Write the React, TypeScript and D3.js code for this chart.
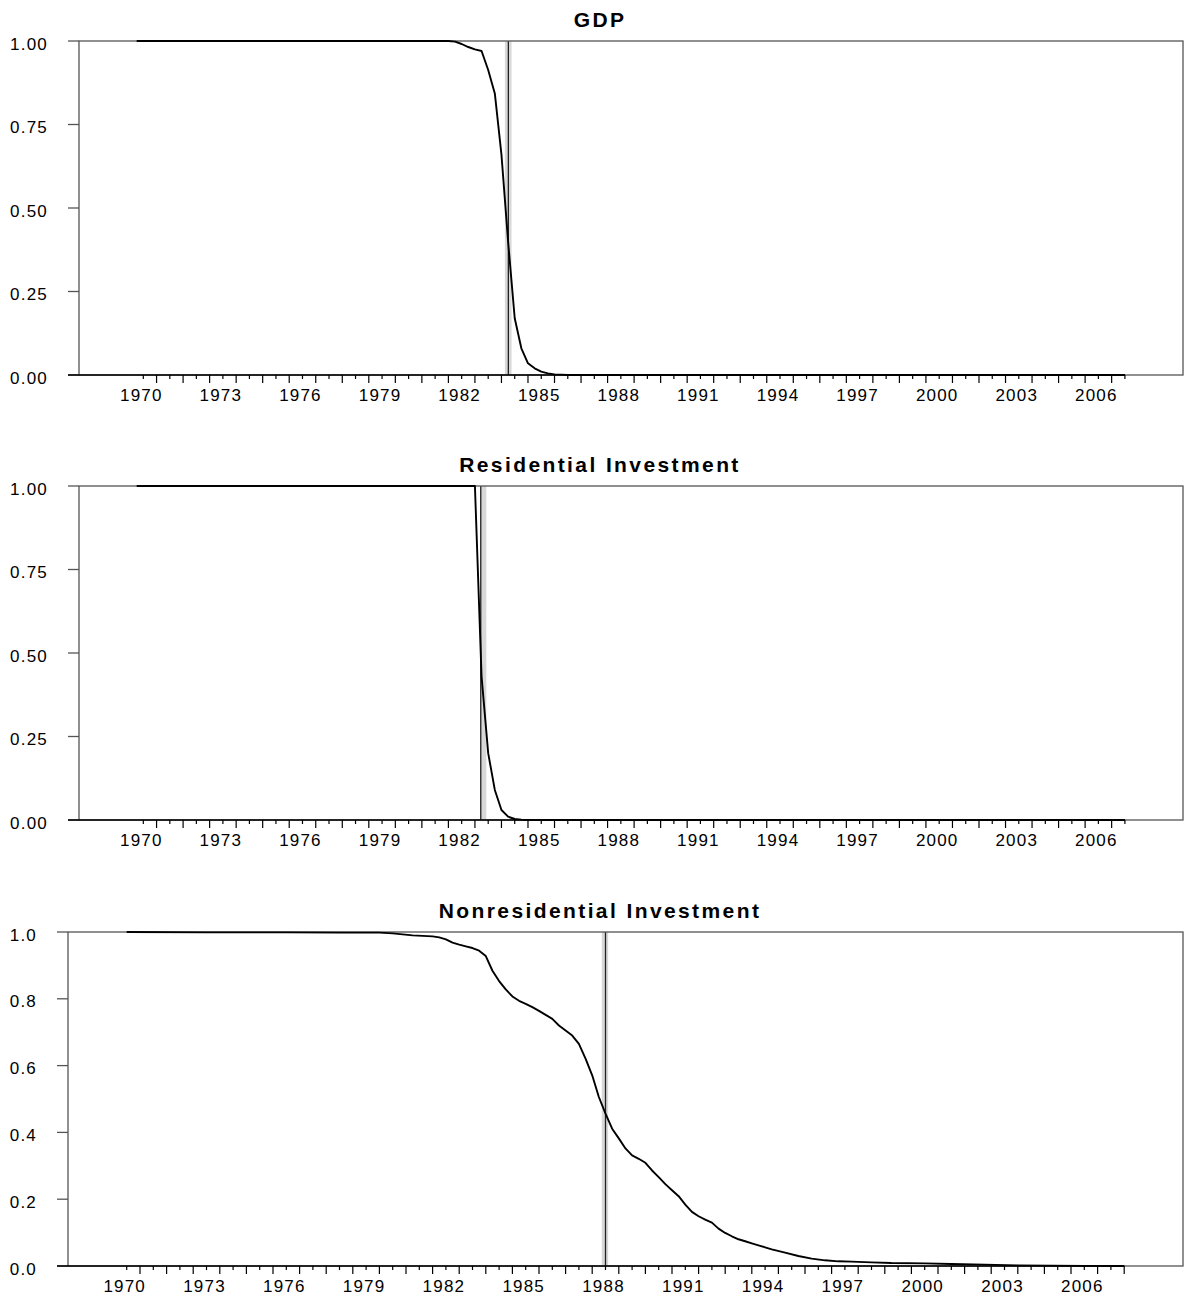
import React from "react";
import * as d3 from "d3";

// smoothed probabilities of being in the first regime (quarterly)
const gdpYears = [1969.75, 1981.5, 1981.75, 1982.0, 1982.25, 1982.5, 1982.75, 1983.0, 1983.25, 1983.5, 1983.75, 1984.0, 1984.25, 1984.5, 1984.75, 1985.0, 1985.25, 1985.5, 1985.75, 1986.0, 2007.0];
const gdpValues = [1.0, 1.0, 0.998, 0.991, 0.982, 0.975, 0.97, 0.913, 0.843, 0.66, 0.4, 0.17, 0.08, 0.035, 0.02, 0.01, 0.005, 0.002, 0.001, 0.0, 0.0];

const resYears = [1969.75, 1982.5, 1982.75, 1983.0, 1983.25, 1983.5, 1983.75, 1984.0, 1984.25, 1984.5, 2007.0];
const resValues = [1.0, 1.0, 0.43, 0.2, 0.09, 0.03, 0.01, 0.003, 0.001, 0.0, 0.0];

const nonresYears = [
  1970.0, 1973.0, 1976.0, 1978.0, 1979.5, 1980.0, 1980.75, 1981.5, 1981.75, 1982.0,
  1982.25, 1982.5, 1982.75, 1983.0, 1983.25, 1983.5, 1983.75, 1984.0, 1984.25, 1984.5,
  1984.75, 1985.0, 1985.25, 1985.5, 1985.75, 1986.0, 1986.25, 1986.5, 1986.75, 1987.0,
  1987.25, 1987.5, 1987.75, 1988.0, 1988.25, 1988.5, 1988.75, 1989.0, 1989.25, 1989.5,
  1989.75, 1990.0, 1990.25, 1990.5, 1990.75, 1991.0, 1991.25, 1991.5, 1991.75, 1992.0,
  1992.25, 1992.5, 1992.75, 1993.0, 1993.25, 1993.5, 1993.75, 1994.0, 1994.25, 1994.75,
  1995.25, 1995.75, 1996.25, 1996.75, 1997.25, 1998.0, 1998.75, 2000.0, 2001.0, 2002.25,
  2003.5, 2004.75, 2006.0, 2007.5
];
const nonresValues = [
  1.0, 0.999, 0.999, 0.998, 0.998, 0.996, 0.99, 0.987, 0.984, 0.978,
  0.968, 0.962, 0.957, 0.952, 0.944, 0.928, 0.884, 0.853, 0.828, 0.807,
  0.794, 0.785, 0.775, 0.764, 0.752, 0.74, 0.72, 0.705, 0.69, 0.665,
  0.621, 0.571, 0.506, 0.456, 0.411, 0.382, 0.352, 0.331, 0.321, 0.309,
  0.286, 0.266, 0.245, 0.227, 0.209, 0.184, 0.162, 0.149, 0.139, 0.13,
  0.112, 0.099, 0.089, 0.08, 0.074, 0.068, 0.062, 0.056, 0.05, 0.04,
  0.03, 0.022, 0.017, 0.014, 0.013, 0.011, 0.009, 0.008, 0.006, 0.004,
  0.002, 0.001, 0.0005, 0.0
];

// estimated break date and its band
const gdpBreak = [1983.63, 1983.76, 1983.88];
const resBreak = [1982.7, 1982.72, 1982.93];
const nonresBreak = [1987.86, 1988.0, 1988.1];

const labelYears = [1970, 1973, 1976, 1979, 1982, 1985, 1988, 1991, 1994, 1997, 2000, 2003, 2006];
const yTicksQuarter = [0, 0.25, 0.5, 0.75, 1];
const yTicksFifth = [0, 0.2, 0.4, 0.6, 0.8, 1];

const FONT = "'Liberation Sans', Arial, Helvetica, sans-serif";

function Panel(props) {
  const { title, years, values, brk, top, left, right, x1970, pxPerYear, endYear, yTicks, fmt } = props;
  const height = 334;
  const bottom = top + height;
  const x = d3.scaleLinear().domain([1970, endYear]).range([x1970, x1970 + (endYear - 1970) * pxPerYear]);
  const y = d3.scaleLinear().domain([0, 1]).range([bottom, top]);
  const pts = years.map((yr, i) => [yr, values[i]]);
  const line = d3.line().x(d => x(d[0])).y(d => y(d[1]));
  const ticks = d3.range(1970, endYear + 0.001, 0.5);
  const axisEnd = x(endYear);

  return (
    <g>
      <text x={600} y={top - 14} textAnchor="middle" fontFamily={FONT} fontWeight="bold" fontSize={21} letterSpacing={2.4}>
        {title}
      </text>
      {/* break band */}
      <rect x={x(brk[0])} y={top} width={x(brk[2]) - x(brk[0])} height={height} fill="#d8d8d8" />
      <line x1={x(brk[1])} x2={x(brk[1])} y1={top} y2={bottom} stroke="#222" strokeWidth={1.3} />
      {/* frame */}
      <rect x={left} y={top} width={right - left} height={height} fill="none" stroke="#555" strokeWidth={1.3} />
      <path d={line(pts)} fill="none" stroke="#000" strokeWidth={1.9} strokeLinejoin="round" />
      {/* y axis */}
      {yTicks.map(t => (
        <g key={t}>
          <line x1={left - 11} x2={left} y1={y(t)} y2={y(t)} stroke="#555" strokeWidth={1.3} />
          <text x={left - 31} y={y(t) + 8.5} textAnchor="end" fontFamily={FONT} fontSize={17} letterSpacing={1.2}>
            {fmt(t)}
          </text>
        </g>
      ))}
      {/* x axis */}
      <line x1={left - 11} x2={axisEnd} y1={bottom} y2={bottom} stroke="#000" strokeWidth={1.3} />
      {ticks.map(t => (
        <line key={t} x1={x(t)} x2={x(t)} y1={bottom} y2={bottom + (Number.isInteger(t) ? 4 : 8)} stroke="#000" strokeWidth={1.2} />
      ))}
      {labelYears.map(yr => (
        <text key={yr} x={x(yr) - 2} y={bottom + 26} textAnchor="middle" fontFamily={FONT} fontSize={17} letterSpacing={1.2}>
          {yr}
        </text>
      ))}
    </g>
  );
}

export default function App() {
  return (
    <svg width={1185} height={1300} style={{ position: "absolute", left: 0, top: 0, background: "#fff" }}>
      <rect width={1185} height={1300} fill="#fff" />
      <Panel title="GDP" years={gdpYears} values={gdpValues} brk={gdpBreak}
        top={41} left={79} right={1183} x1970={143.3} pxPerYear={26.53} endYear={2007}
        yTicks={yTicksQuarter} fmt={d3.format(".2f")} />
      <Panel title="Residential Investment" years={resYears} values={resValues} brk={resBreak}
        top={486} left={79} right={1183} x1970={143.3} pxPerYear={26.53} endYear={2007}
        yTicks={yTicksQuarter} fmt={d3.format(".2f")} />
      <Panel title="Nonresidential Investment" years={nonresYears} values={nonresValues} brk={nonresBreak}
        top={932} left={68} right={1183} x1970={126.7} pxPerYear={26.6} endYear={2007.5}
        yTicks={yTicksFifth} fmt={d3.format(".1f")} />
    </svg>
  );
}
